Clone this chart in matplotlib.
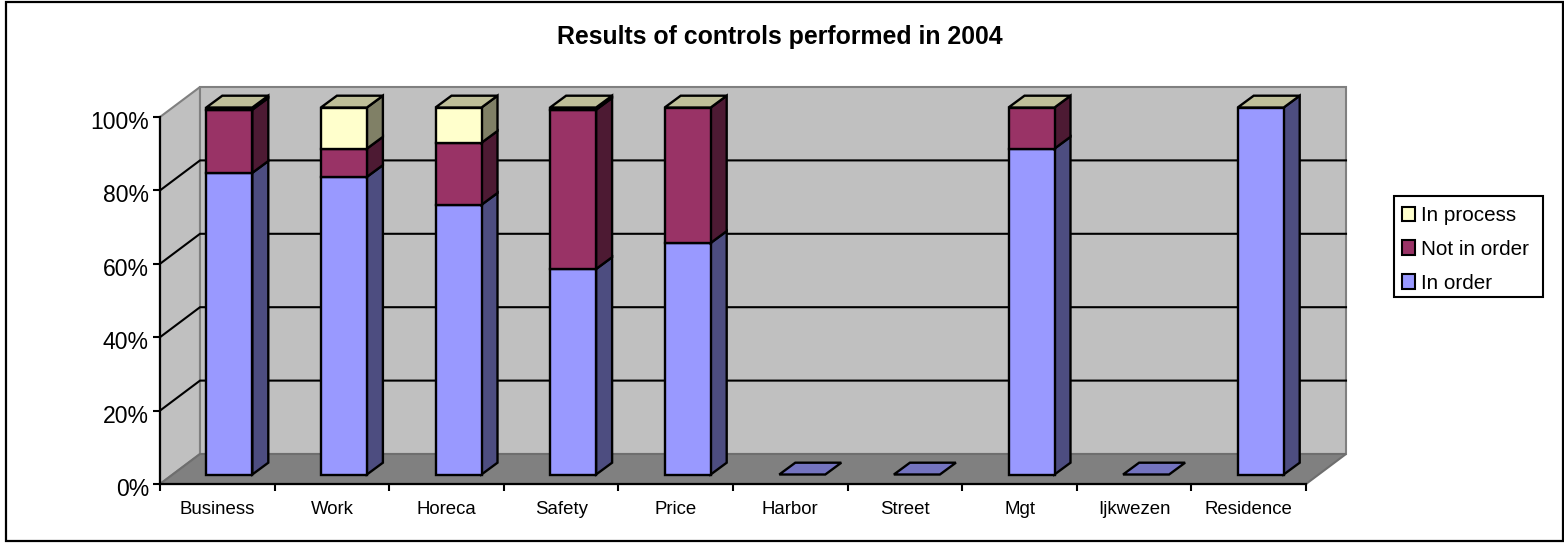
import matplotlib
matplotlib.use("Agg")
import matplotlib.pyplot as plt
from matplotlib.patches import Polygon, Patch, Rectangle
from matplotlib.transforms import ScaledTranslation

plt.rcParams['font.family'] = ['Liberation Sans', 'DejaVu Sans']

categories = ["Business", "Work", "Horeca", "Safety", "Price", "Harbor", "Street", "Mgt", "Ijkwezen", "Residence"]
in_order = [82.2, 81.1, 73.5, 56.0, 63.1, 0, 0, 88.8, 0, 100]
not_in_order = [17.2, 7.7, 16.9, 43.4, 36.9, 0, 0, 11.2, 0, 0]
in_process = [0.6, 11.2, 9.6, 0.6, 0, 0, 0, 0, 0, 0]
series_names = ["In order", "Not in order", "In process"]
y_ticks = [0, 20, 40, 60, 80, 100]

W, H = 1564, 543
L, R, B, T = 160, 1306, 484, 117
fig = plt.figure(figsize=(W / 100, H / 100), dpi=100, facecolor="white")
ax = fig.add_axes([L / W, 1 - B / H, (R - L) / W, (B - T) / H])
ax.set_xlim(0, len(categories))
ax.set_ylim(0, 100)
ax.patch.set_visible(False)
for s in ("top", "right"):
    ax.spines[s].set_visible(False)
for s in ("left", "bottom"):
    ax.spines[s].set_linewidth(1.6)
    ax.spines[s].set_zorder(20)

px_x = len(categories) / (R - L)
px_y = 100 / (B - T)
dx, dy = 40 * px_x, 30 * px_y          # depth of the chart box
sx, sy = 12 * px_x, 9.5 * px_y         # bar start inside the box
bx, by = 16 * px_x, 11.8 * px_y        # bar depth
bw = 46 * px_x

n = len(categories)
grey = "#808080"
ax.add_patch(Polygon([(0, 0), (dx, dy), (dx, 100 + dy), (0, 100)], fc="#C0C0C0", ec=grey, lw=1.5, zorder=1, clip_on=False))
ax.add_patch(Polygon([(dx, dy), (n + dx, dy), (n + dx, 100 + dy), (dx, 100 + dy)], fc="#C0C0C0", ec=grey, lw=1.5, zorder=1, clip_on=False))
ax.add_patch(Polygon([(0, 0), (n, 0), (n + dx, dy), (dx, dy)], fc="#808080", ec="#6E6E6E", lw=1.5, zorder=2, clip_on=False))
for t in y_ticks[1:-1]:
    ax.plot([0, dx, n + dx], [t, t + dy, t + dy], color="black", lw=1.5, zorder=3, clip_on=False, solid_joinstyle="miter")

styles = [("#9999FF", "#4D4D80", "#7373BF"), ("#993366", "#4D1A33", "#732650"), ("#FFFFCC", "#808066", "#BFBF99")]
lw = 1.7
for i in range(n):
    x0 = i + 0.5 + sx - bw / 2
    x1 = x0 + bw
    base = 0.0
    z = 10
    vals = (in_order[i], not_in_order[i], in_process[i])
    for v, (front, side, _) in zip(vals, styles):
        if v > 0:
            top = base + v
            ax.add_patch(Polygon([(x1, base + sy), (x1 + bx, base + sy + by), (x1 + bx, top + sy + by), (x1, top + sy)],
                                 fc=side, ec="black", lw=lw, zorder=z, clip_on=False, joinstyle="miter"))
            ax.add_patch(Polygon([(x0, base + sy), (x1, base + sy), (x1, top + sy), (x0, top + sy)],
                                 fc=front, ec="black", lw=lw, zorder=z, clip_on=False, joinstyle="miter"))
            base = top
            z += 0.1
    top_color = styles[2][2] if base > 0 else styles[0][2]
    ax.add_patch(Polygon([(x0, base + sy), (x1, base + sy), (x1 + bx, base + sy + by), (x0 + bx, base + sy + by)],
                         fc=top_color, ec="black", lw=lw, zorder=z + 1, clip_on=False, joinstyle="miter"))

ax.set_xticks(range(n + 1))
ax.set_xticklabels([""] * (n + 1))
for i, c in enumerate(categories):
    ax.annotate(c, (i + 0.5, 0), xytext=(0, -12.5), textcoords="offset points", ha="center", va="top", fontsize=13.4, color="black")
ax.set_yticks(y_ticks)
ax.set_yticklabels([f"{t}%" for t in y_ticks], fontsize=16.6)
ax.tick_params(axis="both", length=5, width=1.5, color="black", pad=3)
shift = ScaledTranslation(0, -3 / 100, fig.dpi_scale_trans)
for lab in ax.get_yticklabels():
    lab.set_transform(lab.get_transform() + shift)

# legend frame: fixed box behind the legend entries
fig.add_artist(Rectangle((1394 / W, 1 - 297 / H), 149 / W, 101 / H, transform=fig.transFigure, fc="white", ec="black", lw=1.5))
handles = [Patch(fc=styles[k][0], ec="black", lw=1.5, label=series_names[k]) for k in (2, 1, 0)]
leg = fig.legend(handles=handles, loc="upper left", bbox_to_anchor=(1402 / W, 1 - 206 / H), fontsize=14.9,
                 frameon=False, handlelength=0.65, handleheight=0.7,
                 handletextpad=0.27, labelspacing=0.72, borderpad=0, borderaxespad=0)

fig.text(780 / W, 1 - 37 / H, "Results of controls performed in 2004", ha="center", va="center",
         fontsize=17.9, fontweight="bold", color="black")
fig.add_artist(Rectangle((6 / W, 1 - 541 / H), 1557 / W, 539 / H, transform=fig.transFigure, fc="none", ec="black", lw=1.6))
fig.savefig("out.png", dpi=100)
